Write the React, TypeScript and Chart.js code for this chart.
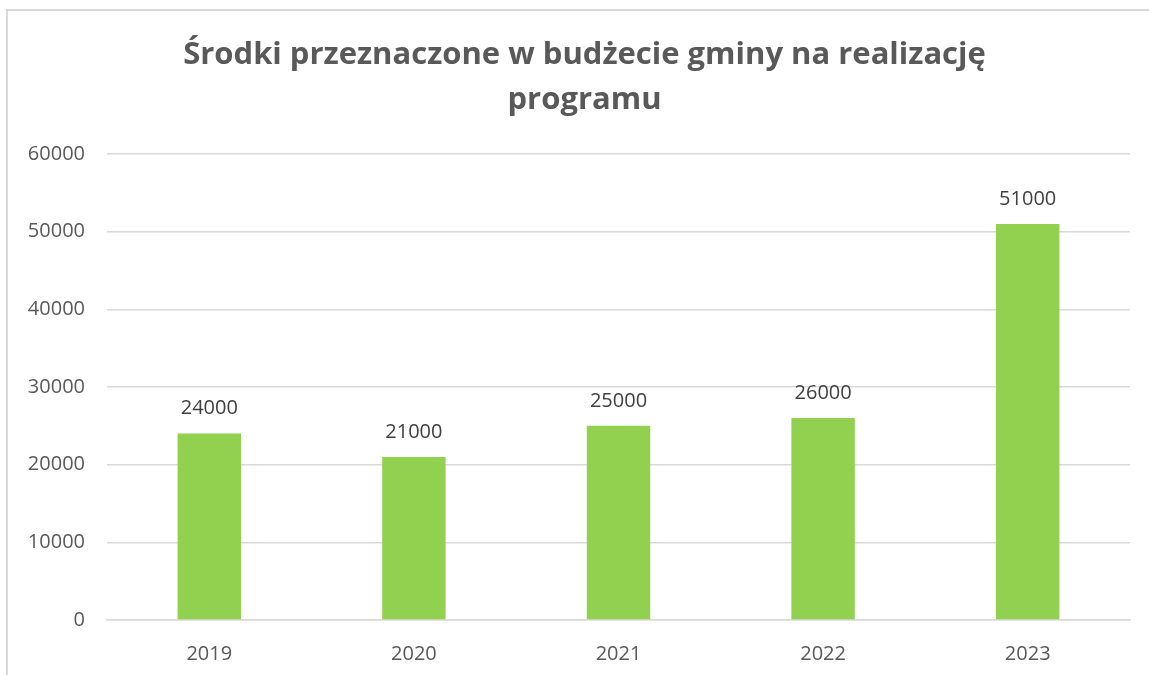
import React, { useEffect, useRef } from "react";
import { Chart, registerables } from "chart.js";

Chart.register(...registerables);

const titleLines = ["Środki przeznaczone w budżecie gminy na realizację", "programu"];
const years = ["2019", "2020", "2021", "2022", "2023"];
const amounts = [24000, 21000, 25000, 26000, 51000];
const yMin = 0;
const yMax = 60000;
const yStep = 10000;

const valueLabels = {
  id: "valueLabels",
  afterDatasetsDraw(chart: any) {
    const ctx = chart.ctx;
    const meta = chart.getDatasetMeta(0);
    ctx.save();
    ctx.font = "20px 'Open Sans'";
    ctx.fillStyle = "#404040";
    ctx.textAlign = "center";
    ctx.textBaseline = "middle";
    meta.data.forEach((bar: any, i: number) => {
      ctx.fillText(String(chart.data.datasets[0].data[i]), bar.x, bar.y - 25);
    });
    ctx.restore();
  },
};

const chartTitle = {
  id: "chartTitle",
  afterDraw(chart: any) {
    const ctx = chart.ctx;
    ctx.save();
    ctx.font = "bold 31px 'Open Sans'";
    ctx.fillStyle = "#595959";
    ctx.textAlign = "center";
    ctx.textBaseline = "middle";
    const cx = chart.width / 2 + 6;
    titleLines.forEach((line, i) => {
      ctx.fillText(line, cx, 44 + i * 45);
    });
    ctx.restore();
  },
};

export default function App() {
  const ref = useRef<HTMLCanvasElement>(null);
  useEffect(() => {
    document.body.style.overflow = "hidden";
    const chart = new Chart(ref.current!, {
      type: "bar",
      data: {
        labels: years,
        datasets: [
          {
            data: amounts,
            backgroundColor: "#92D050",
            barPercentage: 1,
            categoryPercentage: 0.31,
          },
        ],
      },
      options: {
        responsive: false,
        animation: false,
        layout: { padding: { left: 0, right: 19, top: 143, bottom: 0 } },
        plugins: {
          legend: { display: false },
          tooltip: { enabled: false },
          title: { display: false },
        },
        scales: {
          x: {
            grid: { display: false },
            border: { display: true, color: "#d9d9d9", width: 1.5 },
            ticks: { color: "#595959", font: { family: "'Open Sans'", size: 20 }, padding: 14 },
            afterFit: (s: any) => {
              s.height = 55;
            },
          },
          y: {
            min: yMin,
            max: yMax,
            grid: { color: "#d9d9d9", lineWidth: 1.5, drawTicks: false },
            border: { display: false },
            ticks: {
              stepSize: yStep,
              color: "#595959",
              font: { family: "'Open Sans'", size: 20 },
              padding: 22,
              callback: (v: any) => String(v),
            },
            afterFit: (s: any) => {
              s.width = 99;
            },
          },
        },
      },
      plugins: [valueLabels, chartTitle],
    });
    return () => chart.destroy();
  }, []);
  return (
    <div
      style={{
        position: "absolute",
        left: 6,
        top: 9,
        width: 1143,
        height: 666,
        borderLeft: "2px solid #d9d9d9",
        borderTop: "2px solid #d9d9d9",
        background: "#fff",
      }}
    >
      <canvas ref={ref} width={1141} height={664} style={{ display: "block" }} />
    </div>
  );
}
